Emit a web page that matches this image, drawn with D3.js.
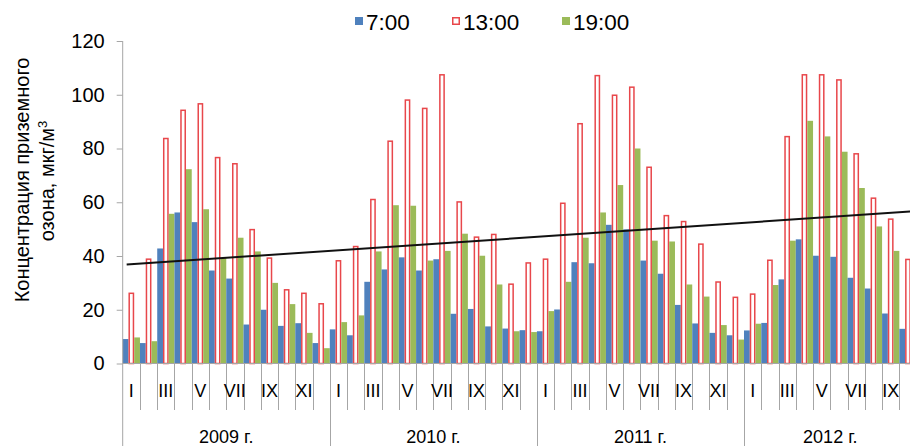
<!DOCTYPE html>
<html>
<head>
<meta charset="utf-8">
<script src="https://cdn.jsdelivr.net/npm/d3@7"></script>
<style>
  html, body { margin: 0; padding: 0; background: #fff; }
  svg { display: block; font-family: "Liberation Sans", Arial, sans-serif; }
</style>
</head>
<body>
<svg id="chart" width="910" height="446"></svg>
<script>
// ---------------- DATA ----------------
const years = ["2009 г.", "2010 г.", "2011 г.", "2012 г."];
const monthsPerYear = [12, 12, 12, 10];
const monthNames = ["I","II","III","IV","V","VI","VII","VIII","IX","X","XI","XII"];
const seriesNames = ["7:00", "13:00", "19:00"];

const values0700 = [
  9.1, 7.6, 42.8, 56.2, 52.6, 34.6, 31.6, 14.5, 20.0, 14.0, 15.0, 7.6,
  12.7, 10.5, 30.4, 35.0, 39.5, 34.6, 38.8, 18.5, 20.3, 13.8, 13.0, 12.4,
  12.0, 20.1, 37.7, 37.3, 51.6, 49.9, 38.3, 33.4, 21.8, 14.9, 11.4, 10.5,
  12.3, 15.1, 31.3, 46.2, 40.1, 39.7, 31.9, 27.9, 18.6, 12.9
];
const values1300 = [
  26.4, 39.1, 84.0, 94.5, 96.9, 76.9, 74.6, 50.1, 39.5, 27.7, 26.4, 22.5,
  38.5, 43.8, 61.3, 83.0, 98.3, 95.2, 107.7, 60.4, 47.3, 48.3, 29.8, 37.7,
  39.1, 59.9, 89.5, 107.4, 100.1, 103.1, 73.3, 55.3, 53.1, 44.7, 30.6, 24.9,
  26.1, 38.7, 84.7, 107.7, 107.7, 105.8, 78.3, 61.8, 54.0, 39.0
];
const values1900 = [
  9.7, 8.3, 55.7, 72.3, 57.4, 39.2, 46.8, 41.7, 30.0, 22.1, 11.4, 5.7,
  15.4, 17.9, 41.7, 58.9, 58.7, 38.3, 41.9, 48.3, 40.1, 29.4, 12.0, 11.7,
  19.5, 30.4, 46.8, 56.2, 66.4, 80.0, 45.7, 45.4, 29.4, 24.9, 14.3, 8.9,
  14.8, 29.2, 45.7, 90.3, 84.5, 78.8, 65.3, 51.0, 41.9, null
];
const yTicks = [0, 20, 40, 60, 80, 100, 120];
const shownMonthLabels = ["I","III","V","VII","IX","XI"];
// linear trend line: [month position, value]
const trendPoints = [[0.23, 36.8], [46, 56.7]];

// ---------------- BUILD TABLE ----------------
const months = [];
years.forEach((y, yi) => {
  for (let m = 0; m < monthsPerYear[yi]; m++) {
    months.push({ id: yi + "-" + m, year: y, yi, m, name: monthNames[m] });
  }
});
const seriesValues = [values0700, values1300, values1900];
const bars = [];
months.forEach((mo, i) => {
  seriesNames.forEach((s, si) => {
    const v = seriesValues[si][i];
    if (v != null) bars.push({ id: mo.id, s, si, v });
  });
});

// ---------------- LAYOUT ----------------
const svg = d3.select("#chart");
const plotLeft = 122.7, plotRight = 916.6, plotTop = 41, plotBottom = 363.5;
const colors = { "7:00": "#4F81BD", "13:00": "#E8474B", "19:00": "#9BBB59" };
const axisColor = "#A6A6A6";

const x = d3.scaleBand().domain(months.map(d => d.id)).range([plotLeft, plotRight]).padding(0);
const xs = d3.scaleBand().domain(seriesNames).range([0, x.bandwidth()]).padding(0);
const y = d3.scaleLinear().domain([0, 120]).range([plotBottom, plotTop]);
const xm = d3.scaleLinear().domain([0, months.length]).range([plotLeft, plotRight]);

// bars
const g = svg.append("g");
g.selectAll("rect.bar").data(bars).enter().append("rect")
  .attr("class", "bar")
  .attr("x", d => x(d.id) + xs(d.s) + (d.s === "13:00" ? 0.75 : 0))
  .attr("width", d => xs.bandwidth() - (d.s === "13:00" ? 1.5 : 0))
  .attr("y", d => y(d.v) + (d.s === "13:00" ? 0.75 : 0))
  .attr("height", d => Math.max(0, y(0) - y(d.v) - (d.s === "13:00" ? 0.75 : 0)))
  .attr("fill", d => d.s === "13:00" ? "#fff" : colors[d.s])
  .attr("stroke", d => d.s === "13:00" ? colors[d.s] : "none")
  .attr("stroke-width", 1.5);

// y axis
const yAxis = d3.axisLeft(y).tickValues(yTicks).tickSize(6).tickPadding(12);
const ya = svg.append("g").attr("transform", `translate(${plotLeft},0)`).call(yAxis);
ya.select(".domain").remove();
ya.selectAll(".tick line").attr("stroke", axisColor);
ya.selectAll(".tick text").attr("font-size", 20).attr("fill", "#000")
  .attr("font-family", "'Liberation Sans', Arial, sans-serif");
svg.append("line").attr("x1", plotLeft).attr("x2", plotLeft)
  .attr("y1", plotTop).attr("y2", 446).attr("stroke", axisColor).attr("stroke-width", 1);

// x axis line
svg.append("line").attr("x1", plotLeft).attr("x2", plotRight)
  .attr("y1", plotBottom).attr("y2", plotBottom).attr("stroke", axisColor);

// month ticks
const xa = svg.append("g");
months.forEach((mo, i) => {
  if (i === 0) return;
  const xx = Math.round(x(mo.id)) + 0.5;
  const isYear = mo.m === 0;
  xa.append("line").attr("x1", xx).attr("x2", xx)
    .attr("y1", plotBottom).attr("y2", isYear ? 446 : 410)
    .attr("stroke", axisColor);
});
// last tick
xa.append("line").attr("x1", plotRight).attr("x2", plotRight)
  .attr("y1", plotBottom).attr("y2", 446).attr("stroke", axisColor);

// month labels
xa.selectAll("text.month").data(months.filter(d => shownMonthLabels.includes(d.name)))
  .enter().append("text").attr("class", "month")
  .attr("x", d => x(d.id) + x.bandwidth() / 2)
  .attr("y", 397)
  .attr("text-anchor", "middle")
  .attr("font-size", 18)
  .text(d => d.name);

// year labels
years.forEach((yr, yi) => {
  const ms = months.filter(d => d.yi === yi);
  const x0 = x(ms[0].id), x1 = x(ms[ms.length - 1].id) + x.bandwidth();
  xa.append("text").attr("x", (x0 + x1) / 2).attr("y", 443)
    .attr("text-anchor", "middle").attr("font-size", 18).text(yr);
});

// trend line
svg.append("line")
  .attr("x1", xm(trendPoints[0][0])).attr("y1", y(trendPoints[0][1]))
  .attr("x2", xm(trendPoints[1][0])).attr("y2", y(trendPoints[1][1]))
  .attr("stroke", "#111").attr("stroke-width", 2);

// y axis title
const yt = svg.append("g");
yt.append("text").attr("transform", "translate(22,180) rotate(-90)")
  .attr("text-anchor", "middle").attr("dy", "0.35em").attr("font-size", 20)
  .text("Концентрация приземного");
const t2 = yt.append("text").attr("transform", "translate(47,181) rotate(-90)")
  .attr("text-anchor", "middle").attr("dy", "0.35em").attr("font-size", 20);
t2.append("tspan").text("озона, мкг/м");
t2.append("tspan").attr("font-size", 13).attr("dy", "-0.55em").text("3");

// legend
const legendX = [355, 452, 562];
const lg = svg.append("g");
seriesNames.forEach((s, i) => {
  const item = lg.append("g").attr("transform", `translate(${legendX[i]},0)`);
  if (s === "13:00") {
    item.append("rect").attr("x", 0.75).attr("y", 17.75).attr("width", 6.5).attr("height", 6.5)
      .attr("fill", "#fff").attr("stroke", colors[s]).attr("stroke-width", 1.5);
  } else {
    item.append("rect").attr("x", 0).attr("y", 17).attr("width", 8).attr("height", 8)
      .attr("fill", colors[s]);
  }
  item.append("text").attr("x", 11).attr("y", 30).attr("font-size", 22.5).text(s);
});
</script>
</body>
</html>
